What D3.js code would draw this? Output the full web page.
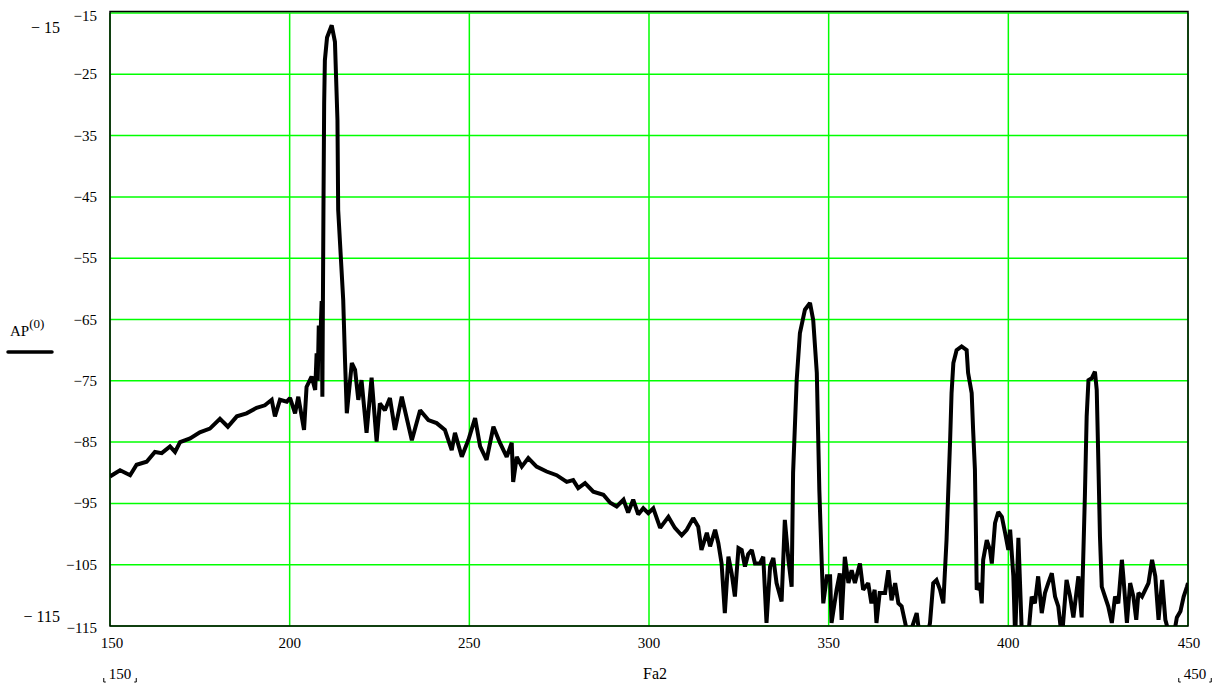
<!DOCTYPE html>
<html>
<head>
<meta charset="utf-8">
<script src="https://cdn.jsdelivr.net/npm/d3@7"></script>
<style>
  body { margin: 0; background: #fff; }
  text { font-family: "Liberation Serif", "Times New Roman", serif; fill: #000; }
</style>
</head>
<body>
<div id="container"></div>
<script>
// spectrum trace (Fa2 in Hz, AP in dB)
const fa2 = [150.0,152.8,155.6,157.4,160.2,162.5,164.4,166.7,168.1,169.5,172.3,175.0,177.8,180.6,182.8,185.3,188.0,190.8,193.1,195.0,
  195.9,197.3,199.2,200.1,201.5,202.4,204.0,204.7,206.1,207.1,207.5,207.8,208.1,208.4,208.9,209.1,209.4,209.6,209.8,210.4,211.7,212.6,
  213.3,213.5,214.9,215.4,215.9,217.3,218.2,219.1,220.0,221.4,222.8,224.2,225.1,226.5,227.9,229.3,231.2,234.0,236.3,238.6,
  240.9,243.2,245.1,246.0,247.9,249.7,251.6,253.0,254.8,256.7,258.5,260.4,261.8,262.2,263.2,264.6,266.4,268.7,271.5,274.3,
  277.1,278.9,280.3,282.2,284.5,287.3,289.2,291.0,292.9,294.2,295.6,297.0,298.4,299.8,301.2,303.1,305.4,307.2,309.1,310.5,
  312.3,313.7,314.6,316.1,317.0,318.4,319.3,320.2,321.1,322.1,323.0,323.9,324.9,325.8,326.7,327.6,328.6,329.5,330.9,331.8,
  332.7,333.7,334.6,335.5,336.9,337.8,338.8,339.7,340.1,341.1,342.0,343.4,344.8,345.7,346.7,347.4,348.1,348.5,349.5,350.4,
  350.8,352.2,353.1,353.6,354.5,355.5,356.4,357.3,358.7,359.6,361.0,361.9,362.8,363.3,364.2,365.7,366.6,367.5,368.5,369.4,
  370.3,371.3,372.2,373.6,374.5,375.4,377.3,378.2,379.1,380.0,381.0,381.9,382.8,383.3,383.8,384.2,384.7,385.6,387.0,388.4,
  388.8,389.8,390.2,390.7,391.0,391.2,392.1,392.6,393.0,394.0,394.9,395.4,396.3,397.2,398.2,399.1,400.0,400.5,401.4,401.9,
  402.8,403.8,405.5,406.5,407.4,408.3,409.3,410.2,411.1,412.1,413.0,413.9,414.9,416.2,417.2,418.1,419.5,420.4,421.3,421.8,
  422.3,423.2,424.1,424.6,425.0,425.5,426.0,426.9,427.8,428.8,429.7,430.6,431.6,432.0,433.0,433.9,434.8,435.6,436.2,437.2,
  438.1,439.0,440.0,440.9,441.8,442.8,443.7,445.1,445.9,446.9,447.9,448.8,449.7,450.0];
const ap = [-90.6,-89.6,-90.4,-88.7,-88.2,-86.6,-86.8,-85.7,-86.6,-85.0,-84.4,-83.4,-82.8,-81.2,-82.5,-80.8,-80.3,-79.4,-79.0,-78.1,
  -80.8,-78.1,-78.4,-77.8,-80.3,-77.6,-83.0,-76.0,-74.3,-76.5,-70.5,-75.0,-66.0,-71.0,-62.0,-77.6,-47.1,-29.7,-22.7,-19.0,-17.0,-19.7,
  -32.5,-47.1,-61.8,-71.6,-80.3,-72.1,-73.2,-78.1,-74.9,-83.5,-74.5,-84.9,-78.7,-79.8,-77.8,-83.0,-77.6,-84.7,-79.8,-81.4,
  -81.9,-83.0,-86.3,-83.5,-87.4,-84.7,-81.1,-85.7,-87.9,-82.5,-85.1,-87.4,-85.1,-91.5,-87.4,-89.0,-87.6,-89.0,-89.8,-90.4,
  -91.5,-91.2,-92.5,-91.7,-93.1,-93.6,-94.9,-95.5,-94.4,-96.5,-94.4,-96.8,-95.8,-96.6,-95.8,-99.0,-97.2,-99.0,-100.2,-99.3,
  -97.4,-98.8,-102.6,-99.8,-102.0,-99.3,-101.5,-104.8,-112.9,-103.7,-106.4,-110.2,-102.3,-102.6,-105.3,-103.3,-102.6,-104.8,-104.8,-103.7,
  -114.5,-105.3,-103.9,-108.0,-111.0,-97.7,-104.2,-108.6,-90.0,-74.9,-67.2,-63.4,-62.3,-65.1,-73.7,-92.8,-105.3,-111.3,-106.9,-106.9,
  -114.5,-109.1,-106.4,-114.0,-103.7,-108.0,-105.9,-108.0,-104.8,-109.1,-108.0,-111.3,-109.1,-114.5,-109.6,-109.6,-105.9,-110.8,-108.0,-111.3,
  -111.8,-114.5,-117.0,-114.5,-112.9,-117.0,-117.0,-114.5,-108.0,-107.5,-109.1,-111.3,-101.0,-92.8,-84.7,-77.0,-72.1,-70.0,-69.4,-70.0,
  -73.7,-77.0,-83.0,-89.5,-100.4,-109.1,-108.0,-111.3,-104.2,-101.0,-102.6,-104.8,-98.2,-96.4,-97.2,-99.8,-102.6,-99.3,-106.9,-117.0,
  -100.6,-117.0,-117.0,-110.2,-111.3,-106.9,-112.9,-109.6,-108.0,-106.4,-110.2,-111.8,-117.0,-107.5,-110.2,-113.6,-106.9,-113.6,-93.9,-80.8,
  -74.9,-74.6,-73.5,-76.5,-86.8,-100.4,-108.6,-110.2,-111.8,-114.5,-110.2,-111.3,-104.2,-106.9,-114.5,-108.0,-110.2,-114.0,-109.6,-110.2,
  -109.1,-108.0,-104.2,-106.9,-114.0,-107.5,-114.0,-117.0,-117.0,-113.6,-112.6,-110.2,-108.6,-108.0];

const xTicks = [150, 200, 250, 300, 350, 400, 450];
const yTicks = [-15, -25, -35, -45, -55, -65, -75, -85, -95, -105, -115];

const width = 1227;
const height = 688;
const plotLeft = 110, plotRight = 1188, plotTop = 13, plotBottom = 626;
const gridcolor = "#00ff00";

const svg = d3.select("#container").append("svg")
  .attr("width", width).attr("height", height);

const x = d3.scaleLinear().domain([150, 450]).range([plotLeft, plotRight]);
const y = d3.scaleLinear().domain([-115, -15]).range([plotBottom, plotTop]);

svg.append("defs").append("clipPath").attr("id", "plotclip")
  .append("rect")
  .attr("x", plotLeft).attr("y", plotTop)
  .attr("width", plotRight - plotLeft).attr("height", plotBottom - plotTop);

// grid
svg.append("g").selectAll("line")
  .data(xTicks)
  .enter().append("line")
  .attr("x1", d => x(d)).attr("x2", d => x(d))
  .attr("y1", plotTop).attr("y2", plotBottom)
  .attr("stroke", gridcolor).attr("stroke-width", 1.5);

svg.append("g").selectAll("line")
  .data(yTicks)
  .enter().append("line")
  .attr("x1", plotLeft).attr("x2", plotRight)
  .attr("y1", d => y(d)).attr("y2", d => y(d))
  .attr("stroke", gridcolor).attr("stroke-width", 1.5);

// frame
svg.append("rect")
  .attr("x", plotLeft).attr("y", plotTop - 1.5)
  .attr("width", plotRight - plotLeft).attr("height", plotBottom - plotTop + 1.5)
  .attr("fill", "none").attr("stroke", "#000").attr("stroke-width", 1.5);

// trace
const line = d3.line()
  .x((d, i) => x(fa2[i]))
  .y(d => y(d));

svg.append("path")
  .datum(ap)
  .attr("clip-path", "url(#plotclip)")
  .attr("d", line)
  .attr("fill", "none")
  .attr("stroke", "#000")
  .attr("stroke-width", 4)
  .attr("stroke-linejoin", "miter")
  .attr("stroke-miterlimit", 2);

// tick labels
const fmt = d => d3.format("")(d);

svg.append("g").selectAll("text")
  .data(yTicks)
  .enter().append("text")
  .attr("x", 97)
  .attr("y", d => y(d) + (d === -15 ? 3 : d === -115 ? 2 : 0))
  .attr("text-anchor", "end")
  .attr("dominant-baseline", "central")
  .style("font-size", "15px")
  .text(fmt);

svg.append("g").selectAll("text")
  .data(xTicks)
  .enter().append("text")
  .attr("x", d => x(d) + (d === 150 ? 2 : d === 450 ? 1 : 0))
  .attr("y", 648)
  .attr("text-anchor", "middle")
  .style("font-size", "15px")
  .text(d => d);

// axis limit labels (Mathcad style)
svg.append("text").attr("x", 60).attr("y", 33)
  .attr("text-anchor", "end").style("font-size", "16px").text("\u2212 15");
svg.append("text").attr("x", 60).attr("y", 622)
  .attr("text-anchor", "end").style("font-size", "16px").text("\u2212 115");

function limitLabel(cx, label) {
  svg.append("text").attr("x", cx).attr("y", 679)
    .attr("text-anchor", "middle").style("font-size", "15px").text(label);
  const w = label.length * 7.5 / 2 + 5;
  svg.append("path")
    .attr("d", `M${cx - w},678 v4 h2 M${cx + w},678 v4 h-2`)
    .attr("stroke", "#000").attr("stroke-width", 1).attr("fill", "none");
}
limitLabel(x(150) + 10, "150");
limitLabel(x(450) + 7, "450");

// axis titles
svg.append("text").attr("x", x(300) + 6).attr("y", 679)
  .attr("text-anchor", "middle").style("font-size", "16px").text("Fa2");

const ylab = svg.append("text").attr("x", 10).attr("y", 336).style("font-size", "15px");
ylab.append("tspan").text("AP");
ylab.append("tspan").attr("dy", -8).style("font-size", "13px").text("(0)");

svg.append("line")
  .attr("x1", 8).attr("x2", 52).attr("y1", 352).attr("y2", 352)
  .attr("stroke", "#000").attr("stroke-width", 3.5).attr("stroke-linecap", "round");
</script>
</body>
</html>
